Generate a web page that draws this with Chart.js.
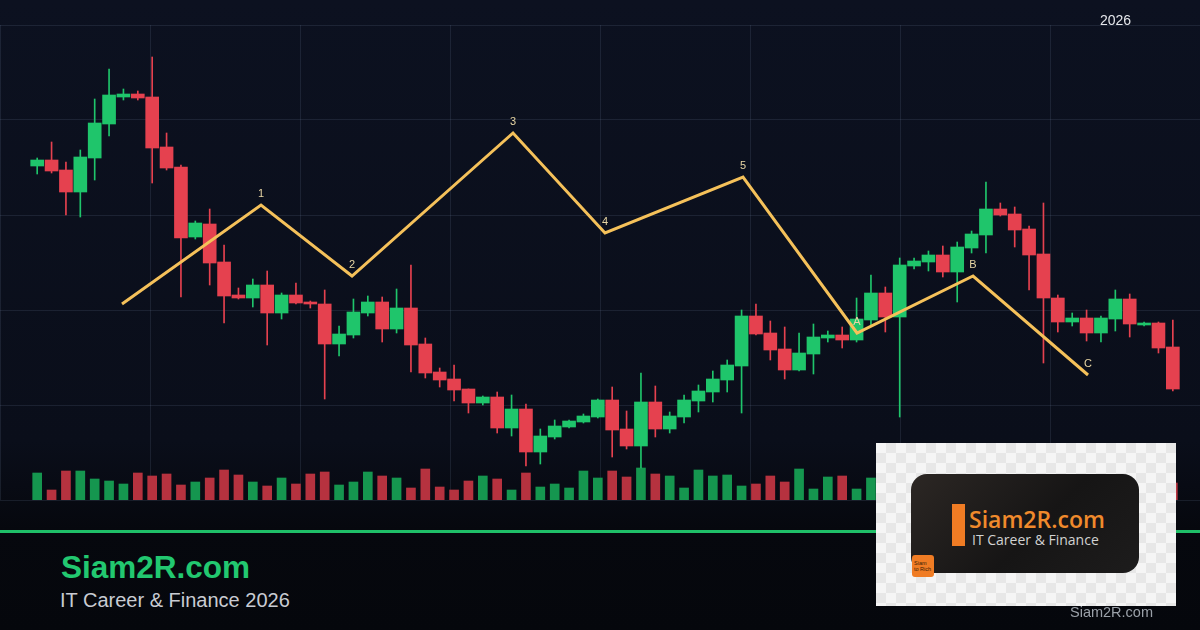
<!DOCTYPE html>
<html>
<head>
<meta charset="utf-8">
<title>Siam2R.com - Elliott wave</title>
<script src="https://cdn.jsdelivr.net/npm/chart.js@4.4.1/dist/chart.umd.min.js"></script>
<style>
  html, body { margin: 0; padding: 0; }
  body {
    width: 1200px; height: 630px; overflow: hidden; position: relative;
    background: linear-gradient(180deg, #0c1120 0%, #0a0e1a 70%, #06080e 84%, #05070c 100%);
    font-family: 'Liberation Sans', Arial, sans-serif;
  }
  #chartBox { position: absolute; left: 0; top: 0; width: 1200px; height: 530px; }
  .year { position: absolute; left: 1100px; top: 13px; font-size: 14px; line-height: 1; color: #e5e7eb; }
  .rule { position: absolute; left: 0; top: 530px; width: 1200px; height: 3px; background: #1fbf68; }
  .brand { position: absolute; left: 61px; top: 552px; font-size: 31.5px; line-height: 1; font-weight: bold; color: #22c870; }
  .tag { position: absolute; left: 60px; top: 590px; font-size: 20px; line-height: 1; color: #c9ccd3; }
  .logo {
    position: absolute; left: 876px; top: 443px; width: 300px; height: 163px;
    background-color: #f5f5f5;
    background-image: conic-gradient(#e7e7e7 25%, transparent 0 50%, #e7e7e7 0 75%, transparent 0);
    background-size: 20px 20px;
  }
  .card {
    position: absolute; left: 35px; top: 31px; width: 228px; height: 99px; border-radius: 16px;
    background: linear-gradient(135deg, #2c2724 0%, #161515 55%, #1d1c1c 100%);
  }
  .card .bar { position: absolute; left: 41px; top: 30px; width: 13px; height: 42px; background: #f07c24; }
  .card .name { position: absolute; left: 58px; top: 34px; font-family: 'Open Sans', sans-serif; font-size: 23px; font-weight: 600; line-height: 1; color: #f08a2c; white-space: nowrap; }
  .card .sub { position: absolute; left: 61px; top: 59px; font-family: 'Open Sans', sans-serif; font-size: 14px; line-height: 1; color: #d2d2d2; white-space: nowrap; }
  .badge {
    position: absolute; left: 36px; top: 112px; width: 22px; height: 22px; border-radius: 3px;
    background: #f07c24; color: #3a1c05; font-size: 5.5px; line-height: 6px; padding: 5px 0 0 2px; box-sizing: border-box;
  }
  .mark { position: absolute; left: 1070px; top: 605px; font-size: 14.5px; line-height: 1; color: #9aa0a8; }
</style>
</head>
<body>
<div id="chartBox"><canvas id="waveChart"></canvas></div>
<div class="year">2026</div>
<div class="rule"></div>
<div class="brand">Siam2R.com</div>
<div class="tag">IT Career &amp; Finance 2026</div>
<div class="logo">
  <div class="card">
    <div class="bar"></div>
    <div class="name">Siam2R.com</div>
    <div class="sub">IT Career &amp; Finance</div>
  </div>
  <div class="badge">Siam<br>to Rich</div>
</div>
<div class="mark">Siam2R.com</div>

<script>
// OHLC per candle (80 sessions)
const openP = [334, 340, 330, 308, 342, 376, 403, 406, 403, 353,
  333, 263, 276, 238, 205, 202, 215, 187, 205, 198,
  196, 156, 165, 187, 198, 171, 192, 156, 128, 121,
  111, 97, 103, 72, 91, 48, 63, 73, 78, 83,
  100, 71, 54, 98, 71, 83, 99, 108, 120, 134,
  184, 167, 151, 130, 146, 162, 165, 160, 180, 207,
  183, 234, 238, 245, 228, 252, 265, 291, 286, 271,
  246, 202, 178, 182, 167, 181, 201, 175, 177, 153];
const highP = [342, 358, 338, 350, 401, 431, 411, 409, 443, 367,
  335, 279, 291, 255, 212, 221, 229, 207, 217, 199,
  210, 174, 201, 204, 203, 211, 235, 162, 132, 135,
  111, 104, 108, 105, 96, 71, 80, 80, 86, 101,
  113, 89, 127, 114, 88, 105, 115, 129, 140, 190,
  196, 179, 173, 167, 176, 169, 173, 202, 225, 213,
  242, 242, 249, 254, 258, 269, 318, 297, 293, 274,
  297, 205, 187, 190, 184, 210, 206, 178, 178, 180];
const lowP = [326, 327, 285, 283, 320, 364, 400, 400, 317, 330,
  203, 261, 215, 177, 201, 193, 155, 181, 196, 192,
  101, 144, 162, 184, 158, 167, 128, 122, 113, 99,
  87, 95, 67, 64, 34, 36, 61, 72, 77, 82,
  43, 51, 32, 63, 67, 77, 88, 98, 108, 87,
  165, 140, 121, 129, 126, 158, 152, 158, 175, 168,
  83, 231, 229, 223, 198, 247, 247, 284, 253, 210,
  137, 168, 174, 159, 158, 169, 163, 174, 147, 109];
const closeP = [340, 329, 308, 343, 377, 405, 406, 402, 352, 332,
  262, 277, 237, 204, 202, 215, 187, 205, 197, 196,
  156, 166, 188, 198, 171, 192, 155, 127, 120, 110,
  97, 103, 72, 91, 48, 64, 74, 79, 84, 100,
  70, 54, 98, 71, 84, 100, 109, 121, 135, 184,
  166, 150, 130, 147, 163, 165, 160, 181, 207, 183,
  235, 239, 245, 228, 253, 266, 291, 285, 270, 245,
  202, 178, 182, 167, 182, 201, 176, 177, 152, 111];
const volume = [2700, 1000, 2900, 2900, 2100, 1900, 1600, 2700, 2400, 2600,
  1500, 1800, 2200, 3000, 2500, 1800, 1400, 2200, 1600, 2600,
  2800, 1500, 1800, 2800, 2400, 2200, 1200, 3100, 1300, 1000,
  1900, 2400, 2100, 1000, 2700, 1300, 1600, 1200, 2900, 2200,
  2900, 2300, 3200, 2600, 2400, 1200, 3000, 2400, 2500, 1400,
  1600, 2400, 1800, 3100, 1100, 2300, 2400, 1100, 2200, 2000,
  2700, 1500, 2200, 1800, 2600, 2400, 2900, 1400, 2100, 3000,
  2500, 1200, 1900, 2300, 1700, 2600, 1300, 2000, 2400, 1700];

// Elliott wave pivots (x in candle index units)
const waveX = [5.9, 15.57, 21.9, 33.1, 39.5, 49.1, 57.03, 65.1, 73.1];
const waveY = [196, 295, 224, 367, 267, 323, 167, 224, 125];
const waveLabels = ['', '1', '2', '3', '4', '5', 'A', 'B', 'C'];

const upColor = '#1fc56b';
const downColor = '#e5414f';
const volUp = '#15964f';
const volDown = '#b6323f';

const idx = openP.map((_, i) => i);
const isUp = idx.map(i => closeP[i] >= openP[i]);

const bodies = idx.map(i => ({ x: i, y: [openP[i], closeP[i]] }));
const wicks = idx.map(i => ({ x: i, y: [lowP[i], highP[i]] }));
const vols = idx.map(i => ({ x: i, y: volume[i] }));
const wave = waveX.map((x, i) => ({ x: x, y: waveY[i] }));

const candleColors = isUp.map(u => (u ? upColor : downColor));
const volColors = isUp.map(u => (u ? volUp : volDown));

// numbers above each wave pivot
const waveLabelPlugin = {
  id: 'waveLabels',
  afterDatasetsDraw(chart) {
    const meta = chart.getDatasetMeta(0);
    const ctx = chart.ctx;
    ctx.save();
    ctx.font = '11px "Liberation Sans", Arial, sans-serif';
    ctx.fillStyle = '#e8d6a4';
    ctx.textAlign = 'center';
    ctx.textBaseline = 'alphabetic';
    meta.data.forEach((pt, i) => {
      if (waveLabels[i]) ctx.fillText(waveLabels[i], pt.x, pt.y - 8);
    });
    ctx.restore();
  }
};

const gridColor = 'rgba(120, 135, 170, 0.16)';

new Chart(document.getElementById('waveChart'), {
  type: 'bar',
  data: {
    datasets: [
      {
        type: 'line',
        data: wave,
        borderColor: '#f5c15a',
        borderWidth: 3,
        borderJoinStyle: 'miter',
        pointRadius: 0,
        tension: 0,
        order: 0,
        xAxisID: 'x',
        yAxisID: 'y'
      },
      {
        data: bodies,
        backgroundColor: candleColors,
        barThickness: 13,
        grouped: false,
        order: 1,
        xAxisID: 'x',
        yAxisID: 'y'
      },
      {
        data: wicks,
        backgroundColor: candleColors,
        barThickness: 1,
        grouped: false,
        order: 2,
        xAxisID: 'x',
        yAxisID: 'y'
      },
      {
        data: vols,
        backgroundColor: volColors,
        barThickness: 9,
        grouped: false,
        order: 3,
        xAxisID: 'x',
        yAxisID: 'vol'
      }
    ]
  },
  options: {
    responsive: true,
    maintainAspectRatio: false,
    animation: false,
    layout: { padding: { top: 25, bottom: 30, left: 0, right: 0 } },
    plugins: { legend: { display: false }, tooltip: { enabled: false } },
    scales: {
      x: {
        type: 'linear',
        min: -2.587,
        max: 80.89,
        offset: false,
        display: false,
        grid: { offset: false }
      },
      gx: {
        type: 'linear',
        position: 'bottom',
        min: 0,
        max: 8,
        offset: false,
        ticks: { display: false, stepSize: 1 },
        grid: { color: gridColor, drawTicks: false, offset: false },
        border: { display: false }
      },
      y: {
        type: 'linear',
        position: 'left',
        min: 0,
        max: 475,
        ticks: { display: false, stepSize: 95 },
        grid: { color: gridColor, drawTicks: false },
        border: { display: false }
      },
      vol: {
        type: 'linear',
        display: false,
        min: 0,
        max: 47500
      }
    }
  },
  plugins: [waveLabelPlugin]
});
</script>
</body>
</html>
